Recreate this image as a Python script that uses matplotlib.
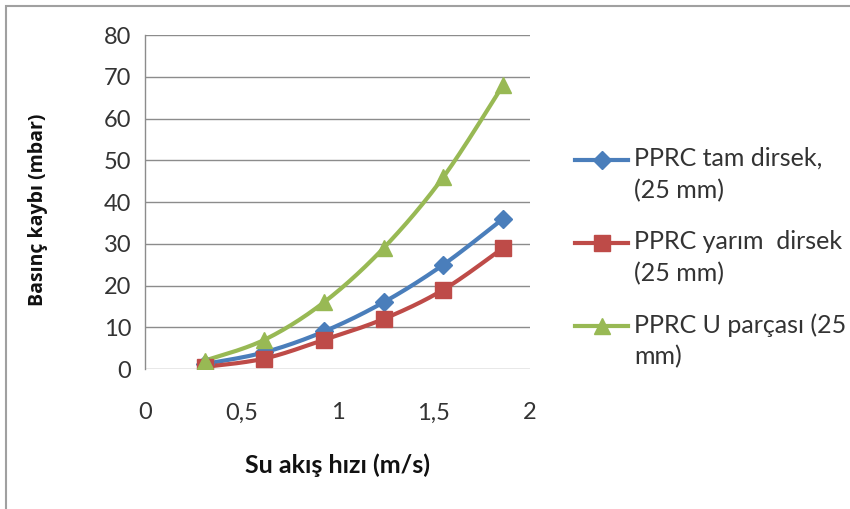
import numpy as np
import matplotlib
matplotlib.use("Agg")
import matplotlib.pyplot as plt
from matplotlib.lines import Line2D
from matplotlib.patches import Rectangle

# su akis hizi (m/s)
hiz = [0.31, 0.62, 0.93, 1.24, 1.55, 1.86]
# basinc kaybi (mbar)
tam_dirsek = [1.2, 4, 9, 16, 25, 36]
yarim_dirsek = [0.5, 2.5, 7, 12, 19, 29]
u_parcasi = [2, 7, 16, 29, 46, 68]

etiketler = ["PPRC tam dirsek,\n(25 mm)",
             "PPRC yarım  dirsek\n(25 mm)",
             "PPRC U parçası (25\nmm)"]
renkler = ["#4A7EBB", "#BE4B48", "#98B954"]
isaretler = ["D", "s", "^"]
boyutlar = [9, 11, 12]

x_ticks = [0, 0.5, 1, 1.5, 2]
x_tick_lbl = ["0", "0,5", "1", "1,5", "2"]
y_ticks = list(range(0, 90, 10))


def yumusat(x, y, n=30):
    # excel tarzi yumusak cizgi (catmull-rom -> bezier)
    p = np.column_stack([x, y]).astype(float)
    out = [p[0]]
    for i in range(len(p) - 1):
        p0 = p[i - 1] if i > 0 else p[i]
        p1 = p[i]
        p2 = p[i + 1]
        p3 = p[i + 2] if i + 2 < len(p) else p[i + 1]
        c1 = p1 + (p2 - p0) / 6.0
        c2 = p2 - (p3 - p1) / 6.0
        t = np.linspace(0, 1, n)[1:, None]
        b = ((1 - t) ** 3) * p1 + 3 * ((1 - t) ** 2) * t * c1 + 3 * (1 - t) * t ** 2 * c2 + t ** 3 * p2
        out.extend(b)
    out = np.array(out)
    return out[:, 0], out[:, 1]


fig = plt.figure(figsize=(8.5, 5.09), dpi=100)
ax = fig.add_axes([0.1706, 0.275, 0.4529, 0.656])

seriler = [tam_dirsek, yarim_dirsek, u_parcasi]
for s, r, m, b in zip(seriler, renkler, isaretler, boyutlar):
    xs, ys = yumusat(hiz, s)
    ax.plot(xs, ys, color=r, lw=3.0, solid_capstyle="round", zorder=3)
    ax.plot(hiz, s, ls="none", marker=m, ms=b, color=r, zorder=4)

ax.set_xlim(0, 2)
ax.set_ylim(0, 80)
ax.set_xticks(x_ticks)
ax.set_xticklabels(x_tick_lbl)
ax.set_yticks(y_ticks)
ax.grid(axis="y", color="#8c8c8c", lw=1.0)
ax.set_axisbelow(True)
for k in ["top", "right", "bottom"]:
    ax.spines[k].set_visible(False)
ax.spines["left"].set_color("#8c8c8c")
ax.spines["left"].set_linewidth(1.0)
ax.tick_params(length=0, labelsize=17, colors="#333333")
ax.tick_params(axis="x", pad=24)
ax.tick_params(axis="y", pad=10)
for t in ax.get_xticklabels() + ax.get_yticklabels():
    t.set_family("Lato")

fig.text(0.3965, 0.086, "Su akış hızı (m/s)", fontsize=18, fontweight="bold",
         family="Lato", ha="center", va="center", color="#111111")
fig.text(0.0447, 0.587, "Basınç kaybı (mbar)", fontsize=14, fontweight="bold",
         family="Open Sans", ha="center", va="center", rotation=90, color="#111111")

# lejant
for i, (et, r, m, b) in enumerate(zip(etiketler, renkler, isaretler, boyutlar)):
    yy = 1 - (160 + 83 * i) / 509
    fig.add_artist(Line2D([575 / 850, 628 / 850], [yy, yy], color=r, lw=3.0,
                          transform=fig.transFigure))
    fig.add_artist(Line2D([601.5 / 850], [yy], marker=m, ms=b, color=r,
                          transform=fig.transFigure))
    fig.text(634 / 850, yy + 13 / 509, et, fontsize=18, family="Lato", color="#333333",
             ha="left", va="top", linespacing=1.45, transform=fig.transFigure)

fig.add_artist(Rectangle((6 / 850, -0.05), 1.2, 0.05 + 1 - 6 / 509, fill=False,
                         ec="#a0a0a0", lw=1.5, transform=fig.transFigure))

fig.savefig("out.png", dpi=100, facecolor="white")
